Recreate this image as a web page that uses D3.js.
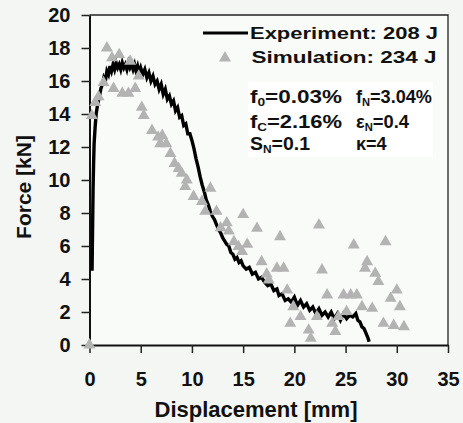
<!DOCTYPE html>
<html><head><meta charset="utf-8">
<script src="https://cdn.jsdelivr.net/npm/d3@7"></script>
<style>
html,body{margin:0;padding:0;background:#f3f6f3;}
text{font-family:"Liberation Sans",Arial,sans-serif;font-weight:bold;fill:#111;}
</style></head>
<body>
<svg id="chart" width="463" height="423"></svg>
<script>
// ---- data ----
const xTicks = [0,5,10,15,20,25,30,35];
const yTicks = [0,2,4,6,8,10,12,14,16,18,20];
const xLabel = "Displacement [mm]";
const yLabel = "Force [kN]";
const legendLabels = ["Experiment: 208 J","Simulation: 234 J"];

// experiment (x mm, force kN)
const expX = [0.25,0.3,0.35,0.4,0.45,0.55,0.65,0.8,0.95,1.1,1.25,1.4,1.55,1.7,1.85,2.0,2.15,2.3,2.45,2.6,2.75,2.9,3.05,3.2,3.35,3.5,3.65,3.8,3.95,4.1,4.25,4.4,4.55,4.7,4.85,5.0,5.2,5.4,5.6,5.8,6.0,6.2,6.4,6.6,6.8,7.0,7.2,7.4,7.6,7.8,8.0,8.2,8.4,8.6,8.8,9.0,9.2,9.4,9.6,9.8,10.0,10.2,10.4,10.6,10.8,11.0,11.2,11.4,11.6,11.8,12.0,12.2,12.4,12.6,12.8,13.0,13.2,13.4,13.6,13.8,14.0,14.2,14.4,14.6,14.8,15.0,15.3,15.6,15.9,16.2,16.5,16.8,17.1,17.4,17.7,18.0,18.3,18.5,18.8,19.1,19.4,19.7,20.0,20.3,20.6,20.9,21.2,21.5,21.8,22.1,22.4,22.7,23.0,23.3,23.6,23.9,24.2,24.5,24.8,25.1,25.4,25.7,26.0,26.2,26.4,26.6,26.8,27.0,27.2,27.3];
const expY = [4.5,7,9.5,11,12.2,13.2,14.0,14.6,15.0,15.5,15.8,16.2,16.0,16.6,16.4,16.9,16.6,17.0,16.7,17.1,16.8,17.0,16.7,17.1,16.8,17.0,16.7,17.1,16.8,17.0,16.7,17.0,16.6,16.9,16.5,16.8,16.4,16.7,16.2,16.5,16.0,16.3,15.8,16.0,15.5,15.8,15.2,15.5,14.9,15.1,14.6,14.8,14.2,14.4,13.8,13.9,13.3,13.4,12.8,12.8,12.4,11.9,11.3,10.8,10.2,9.7,9.3,8.8,8.5,8.1,7.8,7.6,7.3,7.0,6.8,6.5,6.3,6.1,6.0,5.6,5.5,5.2,5.3,5.0,5.1,4.8,4.6,4.7,4.3,4.4,4.0,4.1,3.8,3.6,3.7,3.3,3.4,3.0,3.1,2.7,2.8,2.6,2.9,2.4,2.7,2.3,2.5,2.1,2.3,1.9,2.2,1.8,2.0,1.7,2.0,1.6,1.9,1.5,1.9,1.6,1.8,1.7,1.9,1.5,1.4,1.1,1.0,0.7,0.4,0.2];

// simulation points
const simX = [0,0.23,0.56,0.88,1.37,1.7,2.2,2.35,2.9,3.2,3.8,3.97,4.46,4.8,5.1,5.3,6.1,6.7,6.9,7.1,7.5,7.9,8.3,8.7,9.0,9.5,9.35,10.16,10.98,11.8,11.3,12.4,12.8,13.4,13.6,14.1,14.55,14.9,15.0,15.4,16.35,16.8,17.3,17.5,18.3,18.6,18.95,19.3,19.6,19.9,20.6,21.4,21.6,22.2,22.4,22.7,23.2,23.7,24.0,24.3,24.8,25.1,25.5,25.8,26.1,26.6,26.9,27.1,27.6,27.9,28.2,28.7,28.9,29.4,29.7,30.0,30.3,30.7];
const simY = [0,13.9,14.7,15.05,15.9,18.0,17.4,15.55,17.6,15.25,15.25,17.2,15.55,16.3,14.4,13.9,13.0,12.6,12.2,12.7,12.2,11.6,11.0,10.7,10.4,10.0,9.6,9.0,8.7,9.5,8.1,8.1,7.1,7.4,6.9,6.26,5.96,5.66,7.9,6.1,7.07,5.05,4.3,3.94,4.65,6.56,4.65,3.33,1.31,2.32,1.72,0.9,0.4,1.72,7.27,4.55,3.03,1.31,0.81,1.72,3.03,2.02,3.03,6.06,3.03,2.32,4.65,5.05,2.22,4.34,3.84,1.31,6.26,2.83,1.18,3.33,2.32,1.11];

// parameter text
const paramRows = [
  [["f","0","=0.03%"],["f","N","=3.04%"]],
  [["f","C","=2.16%"],["ε","N","=0.4"]],
  [["S","N","=0.1"],["κ","","=4"]]
];

// ---- chart ----
const W = 463, H = 423;
const m = {left:89.5, top:15, right:15, bottom:78};
const svg = d3.select("#chart");
svg.append("rect").attr("width",W).attr("height",H).attr("fill","#f3f6f3");

const x = d3.scaleLinear().domain([0,35]).range([m.left, W-m.right]);
const y = d3.scaleLinear().domain([0,20]).range([H-m.bottom, m.top]);

svg.append("rect").attr("x",x(0)).attr("y",y(20))
  .attr("width",x(35)-x(0)).attr("height",y(0)-y(20)).attr("fill","#f8fbf8");

// frame top/right
svg.append("path").attr("d",`M${x(0)},${y(20)}H${x(35)}V${y(0)}`)
  .attr("fill","none").attr("stroke","#222").attr("stroke-width",1.3);

// parameter box
svg.append("rect").attr("x",248).attr("y",82).attr("width",185).attr("height",75).attr("fill","#fff");

// axes
const yAxis = svg.append("g").attr("transform",`translate(${x(0)},0)`)
  .call(d3.axisLeft(y).tickValues(yTicks).tickSize(8).tickSizeOuter(0).tickPadding(11));
const xAxis = svg.append("g").attr("transform",`translate(0,${y(0)})`)
  .call(d3.axisBottom(x).tickValues(xTicks).tickSize(8).tickSizeOuter(0).tickPadding(19));
[yAxis,xAxis].forEach(g=>{
  g.select(".domain").attr("stroke","#111").attr("stroke-width",2);
  g.selectAll(".tick line").attr("stroke","#222").attr("stroke-width",1.5);
  g.selectAll(".tick text").attr("font-size",20).attr("font-family","Liberation Sans, Arial, sans-serif").attr("font-weight","bold").attr("fill","#111");
});

// experiment line
const expData = expX.map((v,i)=>[v,expY[i]]);
svg.append("path").datum(expData)
  .attr("d",d3.line().x(d=>x(d[0])).y(d=>y(d[1])))
  .attr("fill","none").attr("stroke","#000").attr("stroke-width",3.4).attr("stroke-linejoin","miter");

// simulation triangles
const tri = d3.symbol().type(d3.symbolTriangle).size(62);
svg.append("g").selectAll("path").data(simX.map((v,i)=>[v,simY[i]])).join("path")
  .attr("d",tri).attr("transform",d=>`translate(${x(d[0])},${y(d[1])})`)
  .attr("fill","#b3b3b3");

// legend
svg.append("line").attr("x1",203).attr("x2",248).attr("y1",33).attr("y2",33)
  .attr("stroke","#000").attr("stroke-width",3);
svg.append("path").attr("d",tri).attr("transform","translate(225,58)").attr("fill","#b3b3b3");
svg.append("text").attr("x",250).attr("y",38.5).attr("font-size",17)
  .attr("textLength",188).attr("lengthAdjust","spacingAndGlyphs").text(legendLabels[0]);
svg.append("text").attr("x",251.5).attr("y",63.3).attr("font-size",17)
  .attr("textLength",185).attr("lengthAdjust","spacingAndGlyphs").text(legendLabels[1]);

// parameters
const rowY = [103.3,128.3,150];
const colX = [250,356];
const colLen = [[92,76],[92,53],[60,null]];
paramRows.forEach((row,ri)=>{
  row.forEach((p,ci)=>{
    const t = svg.append("text").attr("x",colX[ci]).attr("y",rowY[ri]).attr("font-size",18);
    if (colLen[ri][ci]) t.attr("textLength",colLen[ri][ci]).attr("lengthAdjust","spacingAndGlyphs");
    t.append("tspan").text(p[0]);
    if(p[1]) t.append("tspan").attr("font-size",11).attr("dy",3).text(p[1]);
    t.append("tspan").attr("dy",p[1]?-3:0).text(p[2]);
  });
});

// axis titles
svg.append("text").attr("x",256).attr("y",417).attr("text-anchor","middle")
  .attr("font-size",22).text(xLabel);
svg.append("text").attr("transform","translate(31,187) rotate(-90)").attr("text-anchor","middle")
  .attr("font-size",21).text(yLabel);
</script>
</body></html>
